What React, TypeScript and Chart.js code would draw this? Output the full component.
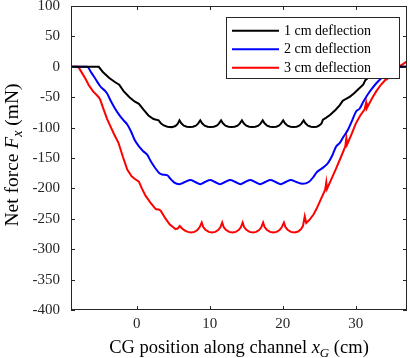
import React, { useEffect, useRef } from "react";
import { Chart, registerables } from "chart.js";

Chart.register(...registerables);

const FONT = "'Liberation Serif', 'Times New Roman', serif";
const AXIS_COLOR = "#262626";

// ---- axes ----
const xMin = -9;
const xMax = 37;
const xTickValues = [0, 10, 20, 30];
const yMin = -400;
const yMax = 100;
const yStep = 50;

// ---- series meta ----
const seriesNames = ["1 cm deflection", "2 cm deflection", "3 cm deflection"];
const seriesColors = ["#000000", "#0000ff", "#ff0000"];

// ---- 1 cm deflection ----
const blackX = [
  -9, -5.2, -4.6, -3.8, -3.0, -2.4, -1.8, -1.0, -0.3, 0.3, 0.9, 1.6, 2.3, 3.0,
  3.3, 3.7, 4.2, 4.8, 5.3, 5.6, 5.85,
  6.1, 6.45, 6.85, 7.25, 7.7, 8.1, 8.4, 8.7,
  8.95, 9.3, 9.7, 10.1, 10.55, 10.95, 11.25, 11.55,
  11.8, 12.15, 12.55, 12.95, 13.4, 13.8, 14.1, 14.4,
  14.65, 15.0, 15.4, 15.8, 16.25, 16.65, 16.95, 17.25,
  17.5, 17.85, 18.25, 18.65, 19.1, 19.45, 19.75, 20.05,
  20.3, 20.65, 21.05, 21.45, 21.9, 22.25, 22.55, 22.85,
  23.1, 23.45, 23.85, 24.25, 24.65, 25.0, 25.3, 25.5,
  25.9, 26.5, 27.2, 27.8, 28.2, 28.6, 29.2, 29.8, 30.4, 31.0, 31.3, 31.9, 32.5, 33.1, 33.6, 37,
];
const blackY = [
  0, 0, -9, -18, -25, -29.5, -40, -50, -57, -61, -70, -80, -86, -88,
  -93, -96.5, -98.5, -99.2, -97.5, -94, -88,
  -93, -96.8, -98.6, -99.2, -98.6, -96.8, -93.5, -88,
  -93, -96.8, -98.6, -99.2, -98.6, -96.8, -93.5, -88,
  -93, -96.8, -98.6, -99.2, -98.6, -96.8, -93.5, -88,
  -93, -96.8, -98.6, -99.2, -98.6, -96.8, -93.5, -88,
  -93, -96.8, -98.6, -99.2, -98.6, -96.8, -93.5, -88,
  -93, -96.8, -98.6, -99.2, -98.6, -96.8, -93.5, -88,
  -93, -96.8, -98.6, -99.2, -98.6, -96.5, -93, -87,
  -84, -79, -71, -63, -56, -53, -49, -43, -36, -29.5, -22, -16, -9, -3, 0, 0,
];

// ---- 2 cm deflection ----
const blueX = [
  -9, -6.8, -6.2, -5.6, -5.0, -4.1, -3.6, -3.0, -2.4, -1.8, -1.3, -0.8, -0.3, 0.3, 0.9,
  1.45, 1.9, 2.5, 3.1, 3.6, 4.2, 4.6, 5.1, 5.85,
  6.6, 7.35, 8.0, 8.7, 9.35, 10.05, 10.7, 11.4, 12.1, 12.8, 13.5, 14.2, 14.85, 15.55,
  16.2, 16.9, 17.6, 18.3, 19.0, 19.7, 20.4, 21.1, 21.85, 22.7,
  23.6, 24.2, 24.6, 25.0, 25.6, 26.2, 26.8, 27.3, 27.8, 28.3, 28.9, 29.5, 30.05, 30.5,
  31.0, 31.6, 32.2, 32.8, 33.5, 34.2, 34.9, 35.5, 37,
];
const blueY = [
  0, 0, -10, -21, -32, -43, -55, -68, -79, -88, -95, -106, -120, -131, -139,
  -145, -155, -166, -175, -177.5, -178.5, -184, -190, -193,
  -189.5, -186, -189.5, -193, -189.5, -186, -189.5, -193, -189.5, -186, -189.5, -193, -189.5, -186,
  -189.5, -193, -189.5, -186, -189.5, -193, -189.5, -186, -189.5, -192.5,
  -189, -181, -174, -170, -165, -158, -145, -131, -125, -115, -104, -88, -73, -69,
  -58, -46, -36, -27, -18.5, -10, -3, 0, 0,
];

// ---- 3 cm deflection ----
const redX = [
  -9, -8.0, -7.5, -7.0, -6.6, -6.0, -5.2, -5.0, -4.6, -4.05, -3.6, -3.1, -2.5, -1.9, -1.3,
  -0.7, -0.2, 0.3, 0.7, 1.2, 1.9, 2.6, 3.1, 3.3, 3.9, 4.5, 5.0, 5.3, 5.6, 5.9,
  6.2, 6.6, 7.0, 7.45, 7.9, 8.3, 8.6, 8.9,
  9.1, 9.4, 9.85, 10.3, 10.75, 11.15, 11.45, 11.7,
  11.9, 12.2, 12.65, 13.1, 13.55, 13.95, 14.25, 14.5,
  14.7, 15.0, 15.45, 15.9, 16.35, 16.75, 17.05, 17.3,
  17.5, 17.8, 18.25, 18.7, 19.15, 19.55, 19.85, 20.15,
  20.35, 20.65, 21.1, 21.6, 22.1, 22.5, 22.75, 23.0, 23.2,
  23.7, 24.2, 24.6, 25.2, 25.8, 25.95, 26.05, 26.6, 27.3, 27.9, 28.55, 28.7, 28.8,
  29.4, 30.0, 30.6, 31.2, 31.4, 31.5, 32.2, 32.8, 33.4, 34.0, 34.2, 34.3, 35.0, 35.8, 36.4, 37,
];
const redY = [
  0, 0, -10, -20, -29.5, -40, -50, -54, -68, -86, -98, -111, -125, -148, -169,
  -180, -185, -189, -200, -212, -224, -234, -235, -237, -249, -259, -264, -267, -266, -262,
  -266, -269.5, -271.5, -272.5, -271.5, -268.5, -264, -256,
  -263.5, -268, -271.5, -272.5, -271.5, -268.5, -264, -256,
  -263.5, -268, -271.5, -272.5, -271.5, -268.5, -264, -256,
  -263.5, -268, -271.5, -272.5, -271.5, -268.5, -264, -256,
  -263.5, -268, -271.5, -272.5, -271.5, -268.5, -264, -256,
  -263.5, -268, -271.5, -272.5, -271, -267, -262, -246, -257,
  -251, -243, -234, -218, -202, -190, -201, -186, -167, -150, -131, -117, -128,
  -111, -93, -80, -70, -59, -68, -52, -40, -30, -22, -14, -20, -10, 0, 4, 9,
];

// ---- titles (rich text parts) ----
type Part = { t: string; it?: boolean; sub?: boolean };
const xTitleParts: Part[] = [
  { t: "CG position along channel " },
  { t: "x", it: true },
  { t: "G", it: true, sub: true },
  { t: " (cm)" },
];
const yTitleParts: Part[] = [
  { t: "Net force " },
  { t: "F", it: true },
  { t: "x", it: true, sub: true },
  { t: " (mN)" },
];

const X_TITLE_SIZE = 18.5;
const Y_TITLE_SIZE = 19.5;
const TICK_SIZE = 15;
const LEGEND_SIZE = 14;

function partFont(p: Part, size: number) {
  const s = p.sub ? Math.round(size * 0.7) : size;
  return `${p.it ? "italic " : ""}${s}px ${FONT}`;
}

function drawRich(ctx: CanvasRenderingContext2D, parts: Part[], size: number) {
  let total = 0;
  const widths = parts.map((p) => {
    ctx.font = partFont(p, size);
    const w = ctx.measureText(p.t).width;
    total += w;
    return w;
  });
  let x = -total / 2;
  ctx.textAlign = "left";
  ctx.textBaseline = "middle";
  parts.forEach((p, i) => {
    ctx.font = partFont(p, size);
    ctx.fillText(p.t, x, p.sub ? size * 0.28 : 0);
    x += widths[i];
  });
}

const decorPlugin = {
  id: "decor",
  afterDraw(chart: any) {
    const { ctx, chartArea: a, scales } = chart;
    ctx.save();
    ctx.strokeStyle = AXIS_COLOR;
    ctx.lineWidth = 1;
    ctx.strokeRect(a.left + 0.5, a.top + 0.5, a.right - a.left - 1, a.bottom - a.top - 1);
    const L = 4;
    ctx.beginPath();
    for (const t of scales.x.ticks) {
      const px = Math.round(scales.x.getPixelForValue(t.value)) + 0.5;
      ctx.moveTo(px, a.bottom);
      ctx.lineTo(px, a.bottom - L);
      ctx.moveTo(px, a.top);
      ctx.lineTo(px, a.top + L);
    }
    for (const t of scales.y.ticks) {
      const py = Math.round(scales.y.getPixelForValue(t.value)) + 0.5;
      ctx.moveTo(a.left, py);
      ctx.lineTo(a.left + L, py);
      ctx.moveTo(a.right, py);
      ctx.lineTo(a.right - L, py);
    }
    ctx.stroke();

    // legend box
    const bw = 173;
    const bh = 61;
    const bx = a.right - 8 - bw;
    const by = a.top + 11;
    ctx.fillStyle = "#ffffff";
    ctx.fillRect(bx, by, bw, bh);
    ctx.strokeStyle = AXIS_COLOR;
    ctx.strokeRect(bx + 0.5, by + 0.5, bw, bh);
    const rows = [13.7, 32.3, 50.7];
    chart.data.datasets.forEach((ds: any, i: number) => {
      const ry = by + rows[i];
      ctx.strokeStyle = ds.borderColor;
      ctx.lineWidth = 2;
      ctx.beginPath();
      ctx.moveTo(bx + 6, ry);
      ctx.lineTo(bx + 53, ry);
      ctx.stroke();
      ctx.fillStyle = "#000000";
      ctx.font = `${LEGEND_SIZE}px ${FONT}`;
      ctx.textAlign = "left";
      ctx.textBaseline = "middle";
      ctx.fillText(ds.label, bx + 58, ry + 0.5);
    });

    // axis titles
    ctx.fillStyle = "#000000";
    ctx.save();
    ctx.translate((a.left + a.right) / 2, 348);
    drawRich(ctx, xTitleParts, X_TITLE_SIZE);
    ctx.restore();
    ctx.save();
    ctx.translate(13, 155);
    ctx.rotate(-Math.PI / 2);
    drawRich(ctx, yTitleParts, Y_TITLE_SIZE);
    ctx.restore();

    ctx.restore();
  },
};

function toPoints(xs: number[], ys: number[]) {
  return xs.map((x, i) => ({ x, y: ys[i] }));
}

function zeroPadding(s: any) {
  s.paddingTop = 0;
  s.paddingBottom = 0;
  s.paddingLeft = 0;
  s.paddingRight = 0;
}

export default function App() {
  const ref = useRef<HTMLCanvasElement>(null);
  useEffect(() => {
    if (!ref.current) return;
    const chart = new Chart(ref.current, {
      type: "line",
      data: {
        datasets: [
          {
            label: seriesNames[0],
            data: toPoints(blackX, blackY),
            borderColor: seriesColors[0],
            borderWidth: 2,
            pointRadius: 0,
            tension: 0,
          },
          {
            label: seriesNames[1],
            data: toPoints(blueX, blueY),
            borderColor: seriesColors[1],
            borderWidth: 2,
            pointRadius: 0,
            cubicInterpolationMode: "monotone",
          },
          {
            label: seriesNames[2],
            data: toPoints(redX, redY),
            borderColor: seriesColors[2],
            borderWidth: 2,
            pointRadius: 0,
            tension: 0,
          },
        ],
      } as any,
      options: {
        animation: false,
        responsive: false,
        devicePixelRatio: 1,
        layout: { padding: { left: 0, top: 6, right: 3, bottom: 0 }, autoPadding: false } as any,
        plugins: { legend: { display: false }, tooltip: { enabled: false } },
        scales: {
          x: {
            type: "linear",
            min: xMin,
            max: xMax,
            afterBuildTicks: (s: any) => {
              s.ticks = xTickValues.map((v) => ({ value: v }));
            },
            afterFit: (s: any) => {
              s.height = 48;
              zeroPadding(s);
            },
            grid: { display: false, drawTicks: false },
            border: { display: false },
            ticks: {
              color: AXIS_COLOR,
              font: { family: FONT, size: TICK_SIZE },
              padding: 5,
              maxRotation: 0,
            },
          },
          y: {
            type: "linear",
            min: yMin,
            max: yMax,
            afterFit: (s: any) => {
              s.width = 71;
              zeroPadding(s);
            },
            grid: { display: false, drawTicks: false },
            border: { display: false },
            ticks: {
              stepSize: yStep,
              color: AXIS_COLOR,
              font: { family: FONT, size: TICK_SIZE },
              padding: 11,
            },
          },
        },
      } as any,
      plugins: [decorPlugin],
    });
    return () => chart.destroy();
  }, []);
  return (
    <div style={{ position: "absolute", left: 0, top: 0, width: 410, height: 358, background: "#fff" }}>
      <canvas ref={ref} width={410} height={358} style={{ display: "block" }} />
    </div>
  );
}
